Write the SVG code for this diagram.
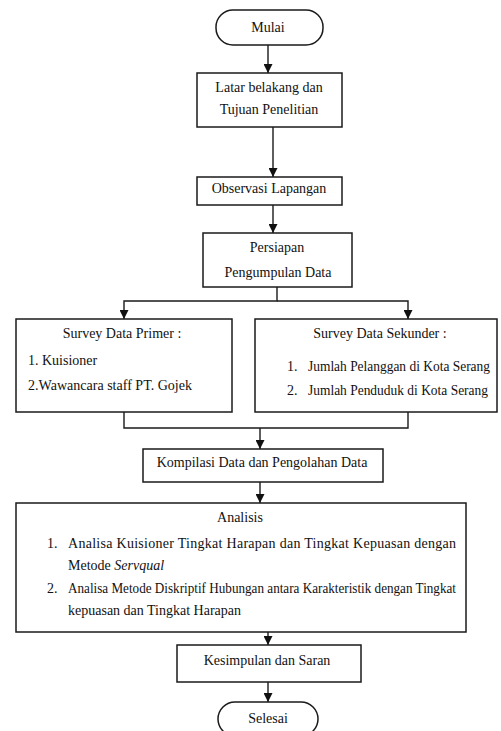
<svg xmlns="http://www.w3.org/2000/svg" width="501" height="731" viewBox="0 0 501 731">
<style>
.box{fill:#fff;stroke:#1a1a1a;stroke-width:1.5}
text{font-family:'Liberation Serif','DejaVu Serif',serif;font-size:14px;fill:#111}
.c{text-anchor:middle}
.ln{fill:none;stroke:#1a1a1a;stroke-width:1.4}
</style>
<defs>
<marker id="ah" markerUnits="userSpaceOnUse" markerWidth="10" markerHeight="9" refX="9" refY="4.5" orient="auto">
<path d="M0,0 L9,4.5 L0,9 z" fill="#111"/>
</marker>
</defs>
<rect width="501" height="731" fill="#fff"/>
<g id="connectors">
<line class="ln" x1="268" y1="45" x2="268" y2="73" marker-end="url(#ah)"/>
<line class="ln" x1="273" y1="127" x2="273" y2="177" marker-end="url(#ah)"/>
<line class="ln" x1="273" y1="205" x2="273" y2="233" marker-end="url(#ah)"/>
<polyline class="ln" points="277,287 277,301 124,301 124,319" marker-end="url(#ah)"/>
<polyline class="ln" points="277,301 408,301 408,319" marker-end="url(#ah)"/>
<polyline class="ln" points="124,412 124,428 408,428 408,412"/>
<line class="ln" x1="260" y1="428" x2="260" y2="449" marker-end="url(#ah)"/>
<line class="ln" x1="260" y1="482" x2="260" y2="503" marker-end="url(#ah)"/>
<line class="ln" x1="268" y1="632" x2="268" y2="645" marker-end="url(#ah)"/>
<line class="ln" x1="268" y1="682" x2="268" y2="702" marker-end="url(#ah)"/>
</g>
<g id="mulai">
<rect class="box" x="216" y="10" width="107" height="35" rx="17"/>
<text class="c" x="268" y="32">Mulai</text>
</g>
<g id="latar">
<rect class="box" x="197" y="73" width="145" height="54"/>
<text class="c" x="269" y="92">Latar belakang dan</text>
<text class="c" x="269" y="114">Tujuan Penelitian</text>
</g>
<g id="observasi">
<rect class="box" x="197" y="177" width="145" height="28"/>
<text class="c" x="269" y="193">Observasi Lapangan</text>
</g>
<g id="persiapan">
<rect class="box" x="203" y="233" width="149" height="54"/>
<text class="c" x="277" y="252">Persiapan</text>
<text class="c" x="278" y="277">Pengumpulan Data</text>
</g>
<g id="primer">
<rect class="box" x="16" y="319" width="216" height="93"/>
<text class="c" x="122" y="338">Survey Data Primer :</text>
<text x="28" y="365">1. Kuisioner</text>
<text x="28" y="390" textLength="164" lengthAdjust="spacingAndGlyphs">2.Wawancara staff PT. Gojek</text>
</g>
<g id="sekunder">
<rect class="box" x="255" y="319" width="242" height="93"/>
<text class="c" x="380" y="338">Survey Data Sekunder :</text>
<text x="287" y="371">1.</text>
<text x="308" y="371" textLength="182" lengthAdjust="spacingAndGlyphs">Jumlah Pelanggan di Kota Serang</text>
<text x="287" y="395">2.</text>
<text x="308" y="395" textLength="180" lengthAdjust="spacingAndGlyphs">Jumlah Penduduk di Kota Serang</text>
</g>
<g id="kompilasi">
<rect class="box" x="143" y="449" width="240" height="33"/>
<text class="c" x="262" y="467">Kompilasi Data dan Pengolahan Data</text>
</g>
<g id="analisis">
<rect class="box" x="16" y="503" width="450" height="129"/>
<text class="c" x="240" y="522">Analisis</text>
<text x="47" y="548">1.</text>
<text x="68" y="548" textLength="388" lengthAdjust="spacing">Analisa Kuisioner Tingkat Harapan dan Tingkat Kepuasan dengan</text>
<text x="68" y="570">Metode <tspan font-style="italic">Servqual</tspan></text>
<text x="47" y="593">2.</text>
<text x="68" y="593" textLength="388" lengthAdjust="spacingAndGlyphs">Analisa Metode Diskriptif Hubungan antara Karakteristik dengan Tingkat</text>
<text x="68" y="615">kepuasan dan Tingkat Harapan</text>
</g>
<g id="kesimpulan">
<rect class="box" x="177" y="645" width="184" height="37"/>
<text class="c" x="267" y="665">Kesimpulan dan Saran</text>
</g>
<g id="selesai">
<rect class="box" x="218" y="702" width="100" height="34" rx="17"/>
<text class="c" x="268" y="723">Selesai</text>
</g>
</svg>
